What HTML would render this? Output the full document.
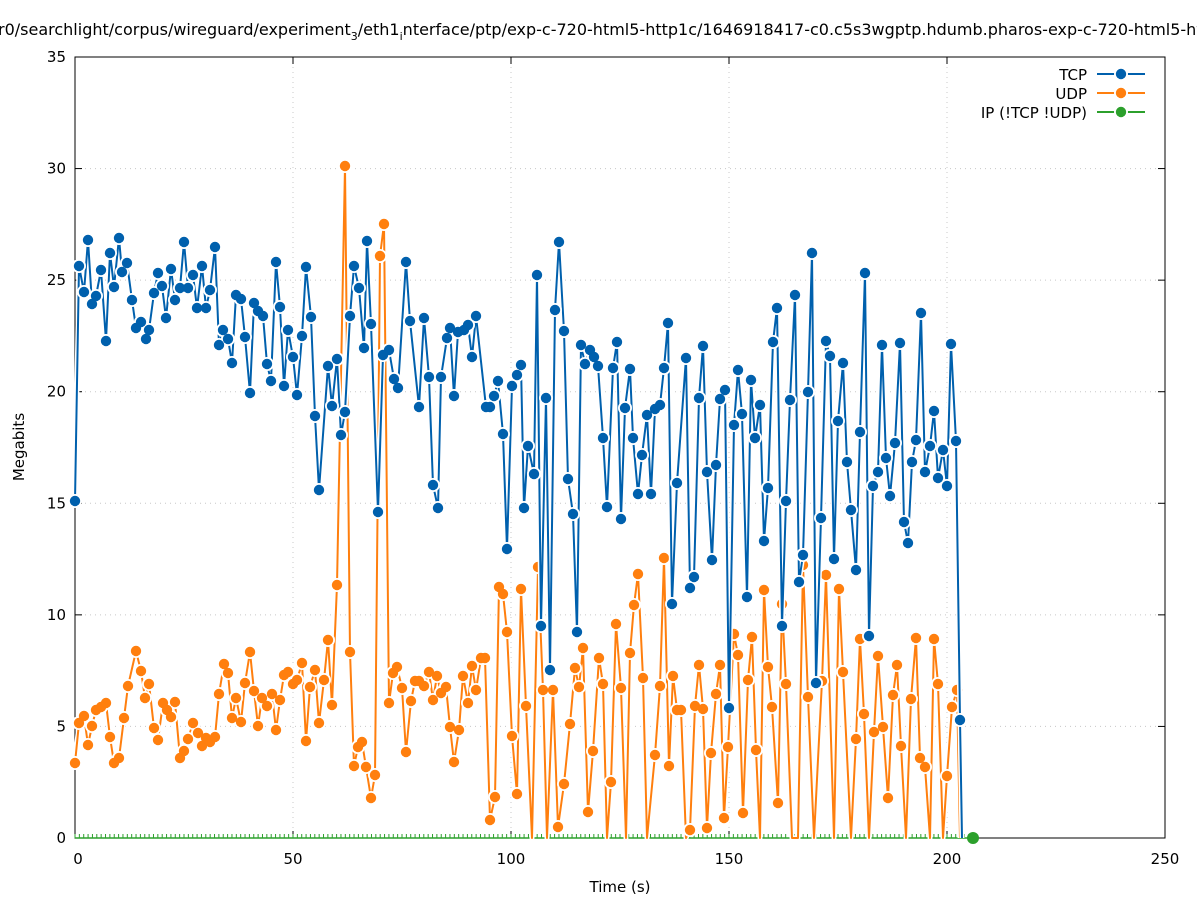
<!DOCTYPE html>
<html><head><meta charset="utf-8"><style>
html,body{margin:0;padding:0;background:#fff;}
svg{display:block;font-family:"DejaVu Sans","Liberation Sans",sans-serif;}
</style></head><body>
<svg id="s" width="1197" height="900" viewBox="0 0 1197 900" xmlns="http://www.w3.org/2000/svg">
<rect width="1197" height="900" fill="#fff"/>
<g id="grid" stroke="#c8c8c8" stroke-width="1" stroke-dasharray="1,4"></g>
<g id="axes"></g>
<g id="series"></g>
<text x="-2" y="35" font-size="16" fill="#000">r0/searchlight/corpus/wireguard/experiment<tspan font-size="11" dy="5">3</tspan><tspan dy="-5">/eth1</tspan><tspan font-size="11" dy="5">i</tspan><tspan dy="-5">nterface/ptp/exp-c-720-html5-http1c/1646918417-c0.c5s3wgptp.hdumb.pharos-exp-c-720-html5-http1c</tspan></text>
<text x="24" y="447" font-size="15" text-anchor="middle" transform="rotate(-90 24 447)">Megabits</text>
<text x="620" y="892" font-size="15" text-anchor="middle">Time (s)</text>
<g font-size="15" text-anchor="end">
<text x="1087" y="80">TCP</text>
<text x="1087" y="99">UDP</text>
<text x="1087" y="118">IP (!TCP  !UDP)</text>
</g>
</svg>
<script>
const NS="http://www.w3.org/2000/svg";
function el(p,t,a){const e=document.createElementNS(NS,t);for(const k in a)e.setAttribute(k,a[k]);p.appendChild(e);return e;}
const g=document.getElementById('grid'),ax=document.getElementById('axes'),se=document.getElementById('series');
const X0=75,X1=1165,Y0=838,Y1=57;
for(let i=0;i<=5;i++){const x=X0+i*(X1-X0)/5;
 if(i>0&&i<5)el(g,'line',{x1:x,y1:Y1,x2:x,y2:Y0});
 el(ax,'line',{x1:x,y1:Y0,x2:x,y2:Y0-7,stroke:'#000'});el(ax,'line',{x1:x,y1:Y1,x2:x,y2:Y1+7,stroke:'#000'});
 const t=el(ax,'text',{x:x+(i==0?3:0),y:864,'font-size':15,'text-anchor':'middle'});t.textContent=i*50;}
for(let i=0;i<=7;i++){const y=Y0-i*(Y0-Y1)/7;
 if(i>0&&i<7)el(g,'line',{x1:X0,y1:y,x2:X1,y2:y});
 el(ax,'line',{x1:X0,y1:y,x2:X0+7,y2:y,stroke:'#000'});el(ax,'line',{x1:X1,y1:y,x2:X1-7,y2:y,stroke:'#000'});
 const t=el(ax,'text',{x:66,y:y+5,'font-size':15,'text-anchor':'end'});t.textContent=i*5;}
el(ax,'rect',{x:X0,y:Y1,width:X1-X0,height:Y0-Y1,fill:'none',stroke:'#000','stroke-width':1});
const tcp=`75,501 79,266 84,292 88,240 92,304 96,296 101,270 106,341 110,253 114,287 119,238 122,272 127,263 132,300 136,328 141,322 146,339 149,330 154,293 158,273 162,286 166,318 171,269 175,300 180,288 184,242 188,288 193,275 197,308 202,266 206,308 210,290 215,247 219,345 223,330 228,339 232,363 236,295 241,299 245,337 250,393 254,303 258,311 263,316 267,364 271,381 276,262 280,307 284,386 288,330 293,357 297,395 302,336 306,267 311,317 315,416 319,490 328,366 332,406 337,359 341,435 345,412 350,316 354,266 359,288 364,348 367,241 371,324 378,512 383,355 389,350 394,379 398,388 406,262 410,321 419,407 424,318 429,377 433,485 438,508 441,377 447,338 450,328 454,396 458,332 464,330 468,325 472,357 476,316 486,407 490,407 494,396 498,381 503,434 507,549 512,386 517,375 521,365 524,508 528,446 534,474 537,275 541,626 546,398 550,670 555,310 559,242 564,331 568,479 573,514 577,632 581,345 585,364 590,350 594,357 598,366 603,438 607,507 613,368 617,342 621,519 625,408 630,369 633,438 638,494 642,455 647,415 651,494 655,409 660,405 664,368 668,323 672,604 677,483 686,358 690,588 694,577 699,398 703,346 707,472 712,560 716,465 720,399 725,390 729,708 734,425 738,370 742,414 747,597 751,380 755,438 760,405 764,541 768,488 773,342 777,308 782,626 786,501 790,400 795,295 799,582 803,555 808,392 812,253 816,683 821,518 826,341 830,356 834,559 838,421 843,363 847,462 851,510 856,570 860,432 865,273 869,636 873,486 878,472 882,345 886,458 890,496 895,443 900,343 904,522 908,543 912,462 916,440 921,313 925,472 930,446 934,411 938,478 943,450 947,486 951,344 956,441 960,720 962,838`;
const udp=`75,763 79,723 84,716 88,745 92,726 96,710 101,707 106,703 110,737 114,763 119,758 124,718 128,686 136,651 141,671 145,698 149,684 154,728 158,740 163,703 167,710 171,717 175,702 180,758 184,751 188,739 193,723 198,733 202,746 206,738 210,742 215,737 219,694 224,664 228,673 232,718 236,698 241,722 245,683 250,652 254,691 258,726 262,698 267,706 272,694 276,730 280,700 284,675 288,672 293,684 297,680 302,663 306,741 310,687 315,670 319,723 324,680 328,640 332,705 337,585 345,166 350,652 354,766 358,747 362,742 366,767 371,798 375,775 380,256 384,224 389,703 393,673 397,667 402,688 406,752 411,701 415,681 419,681 424,686 429,672 433,700 437,676 441,693 446,687 450,727 454,762 459,730 463,676 468,703 472,666 476,690 481,658 485,658 490,820 495,797 499,587 503,594 507,632 512,736 517,794 521,589 526,706 532,838 538,567 543,690 547,838 553,690 558,827 564,784 570,724 575,668 579,687 583,648 588,812 593,751 599,658 603,684 607,838 611,782 616,624 621,688 626,838 630,653 634,605 638,574 643,678 647,838 655,755 660,686 664,558 669,766 673,676 677,710 681,710 686,838 690,830 695,706 699,665 703,709 707,828 711,753 716,694 720,665 724,818 728,747 734,634 738,655 743,813 748,680 752,637 756,750 760,838 764,590 768,667 772,707 778,803 782,604 786,684 792,838 798,838 803,565 808,697 814,838 822,681 826,575 834,838 839,589 843,672 851,838 856,739 860,639 864,714 869,838 874,732 878,656 883,727 888,798 893,695 897,665 901,746 906,838 911,699 916,638 920,758 925,767 930,838 934,639 938,684 943,838 947,776 952,707 957,690 960,838`;
function draw(str,col){
 const pts=str.split(' ').map(p=>p.split(',').map(Number));
 el(se,'polyline',{points:str,fill:'none',stroke:'#fff','stroke-width':5,'stroke-linejoin':'round'});
 el(se,'polyline',{points:str,fill:'none',stroke:col,'stroke-width':2,'stroke-linejoin':'round'});
 const vis=pts.filter(p=>p[1]<836);
 vis.forEach(p=>el(se,'circle',{cx:p[0],cy:p[1],r:7,fill:'#fff'}));
 vis.forEach(p=>el(se,'circle',{cx:p[0],cy:p[1],r:5.2,fill:col}));
}
el(se,'line',{x1:75,y1:838,x2:973,y2:838,stroke:'#2ca02c','stroke-width':1.5});
for(let x=75;x<973;x+=4.36)el(se,'line',{x1:x,y1:838,x2:x,y2:834,stroke:'#2ca02c','stroke-width':1});
draw(udp,'#ff7f0e');
draw(tcp,'#0060ad');
el(se,'circle',{cx:973,cy:838,r:6,fill:'#2ca02c'});
[[74,'#0060ad'],[93,'#ff7f0e'],[112,'#2ca02c']].forEach(([y,c])=>{
 el(se,'line',{x1:1097,y1:y,x2:1145,y2:y,stroke:c,'stroke-width':2});
 el(se,'circle',{cx:1121,cy:y,r:7,fill:'#fff'});el(se,'circle',{cx:1121,cy:y,r:5.2,fill:c});});
</script>
</body></html>
